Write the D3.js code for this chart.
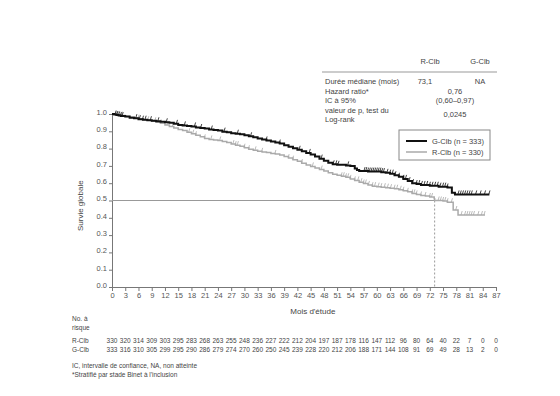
<!DOCTYPE html>
<html>
<head>
<meta charset="utf-8">
<script src="https://cdn.jsdelivr.net/npm/d3@7"></script>
<style>
  body { margin: 0; background: #fff; }
  svg text { font-family: "Liberation Sans", Arial, sans-serif; fill: #444; }
</style>
</head>
<body>
<div id="chart"></div>
<script>
// survival steps [mois, survie]
const gclbSteps = [[0,1],[0.5,0.997],[1,0.994],[1.5,0.991],[2,0.988],[3,0.985],[4,0.979],[5,0.976],[6,0.97],[7,0.967],[8,0.964],[9,0.961],[10,0.958],[11,0.955],[12,0.952],[13,0.949],[14,0.943],[15,0.937],[16,0.934],[17,0.931],[18,0.928],[19,0.922],[20,0.919],[21,0.916],[22,0.91],[23,0.907],[24,0.904],[25,0.898],[26,0.895],[27,0.889],[28,0.886],[29,0.883],[30,0.877],[31,0.871],[32,0.865],[33,0.859],[34,0.853],[35,0.847],[36,0.841],[37,0.835],[38,0.829],[39,0.82],[40,0.811],[41,0.802],[42,0.793],[43,0.784],[44,0.775],[45,0.766],[46,0.754],[47,0.742],[48,0.73],[49,0.718],[50,0.709],[51,0.706],[53,0.703],[54,0.7],[55,0.685],[55.5,0.676],[56,0.67],[58,0.667],[61,0.664],[62,0.66],[63,0.655],[64,0.646],[65,0.637],[66,0.625],[67,0.612],[68,0.6],[69,0.595],[70,0.59],[72,0.585],[74,0.58],[76,0.575],[77,0.545],[77.7,0.535],[85.5,0.535]]
const rclbSteps = [[0,1],[1,0.994],[2,0.991],[3,0.985],[4,0.982],[5,0.976],[6,0.973],[7,0.967],[8,0.964],[9,0.958],[10,0.952],[11,0.946],[12,0.937],[13,0.928],[14,0.919],[15,0.91],[16,0.904],[17,0.895],[18,0.886],[19,0.877],[20,0.868],[21,0.859],[22,0.853],[23,0.85],[24,0.847],[25,0.841],[26,0.835],[27,0.826],[28,0.82],[29,0.814],[30,0.805],[31,0.796],[32,0.79],[33,0.784],[34,0.781],[35,0.778],[36,0.772],[37,0.769],[38,0.763],[39,0.754],[40,0.745],[41,0.736],[42,0.727],[43,0.716],[44,0.705],[45,0.697],[46,0.688],[47,0.679],[48,0.67],[49,0.661],[50,0.652],[51,0.646],[52,0.64],[53,0.634],[54,0.625],[55,0.616],[56,0.606],[57,0.598],[58,0.59],[59,0.583],[60,0.58],[61,0.577],[62,0.574],[63,0.571],[64,0.568],[65,0.562],[66,0.556],[67,0.55],[68,0.541],[69,0.535],[70,0.529],[71,0.526],[72,0.52],[73,0.51],[73.1,0.5],[75,0.497],[76,0.49],[77.3,0.445],[78.4,0.416],[84.5,0.416]]

// censored times
const gclbCensor = [0.8,1.2,1.6,2.0,2.4,5.5,6.3,7.0,7.6,8.8,10.5,12.4,14.7,16.5,18.8,20.2,22.6,25.5,28.5,31.5,35,38,42.5,44.8,47.5,50.2,50.8,51.3,53.5,57.2,57.6,58,58.4,58.8,59.2,59.6,60,60.4,60.8,61.2,61.6,62.4,63,63.6,64.2,65,66,66.6,67.4,68.2,69,69.6,70.2,70.8,71.4,72,72.6,73.2,73.8,74.4,75,75.5,76,78.5,79,79.5,80,80.5,81,81.5,82.5,83.5,84.5,85.5]
const rclbCensor = [1.0,1.5,2.2,6.0,8.2,9.8,11,12.6,13.8,17.5,18.4,19,21,22.5,24.5,27.5,28,28.5,30,31,32.5,34,37,40,41,43,45.5,47.5,52,52.5,53,53.5,54,55,55.8,56.5,57,57.5,58.2,59,59.6,60.4,61,61.8,62.5,63.2,64,64.6,65.4,66,67,68,68.5,69,70,71,72,72.5,74,74.5,75,75.5,76,77,78,79.2,80,80.5,81,81.5,82,83,83.8,84.4]

// at-risk table
const riskMonths = d3.range(0, 88, 3)
const rclbRisk = [330,320,314,309,303,295,283,268,263,255,248,236,227,222,212,204,197,187,178,116,147,112,96,80,64,40,22,7,0,0]
const gclbRisk = [333,316,310,305,299,295,290,286,279,274,270,260,250,245,239,228,220,212,206,188,171,144,108,91,69,49,28,13,2,0]

const yTicks = d3.range(0, 11).map((d) => d / 10)
const medianR = 73.1

const statRows = [
    ['Durée médiane (mois)', '73,1', 'NA'],
    ['Hazard ratio*', '0,76'],
    ['IC à 95%', '(0,60–0,97)'],
    ['valeur de p, test du', '0,0245'],
    ['Log-rank', '']
]
const footnotes = ['IC, intervalle de confiance, NA, non atteinte', '*Stratifié par stade Binet à l\'inclusion']

const width = 560
const height = 396

const svg = d3.select('#chart').append('svg')
    .attr('width', width)
    .attr('height', height)

const x = d3.scaleLinear().domain([0, 87]).range([112, 496])
const y = d3.scaleLinear().domain([0, 1]).range([287, 114])

//axes
const yAxis = svg.append('g')
    .attr('transform', `translate(${x(0)},0)`)
    .call(d3.axisLeft(y).tickValues(yTicks).tickSize(3).tickPadding(2).tickFormat(d3.format('.1f')))
const xAxis = svg.append('g')
    .attr('transform', `translate(0,${y(0)})`)
    .call(d3.axisBottom(x).tickValues(riskMonths).tickSize(4).tickPadding(2))
;[yAxis, xAxis].forEach((g) => {
    g.selectAll('.domain').attr('stroke', '#777')
    g.selectAll('.tick line').attr('stroke', '#777')
    g.selectAll('.tick text').style('font-size', '7.5px').style('fill', '#555')
})
yAxis.selectAll('.tick text').attr('dy', '0.05em')

svg.append('text')
    .attr('transform', `translate(83,${y(0.47)}) rotate(-90)`)
    .attr('text-anchor', 'middle')
    .style('font-size', '8px')
    .text('Survie globale')
svg.append('text')
    .attr('x', x(45.5)).attr('y', 314)
    .attr('text-anchor', 'middle')
    .style('font-size', '8px')
    .text('Mois d\'étude')

//median reference
svg.append('line')
    .attr('x1', x(0)).attr('x2', x(medianR))
    .attr('y1', y(0.5)).attr('y2', y(0.5))
    .attr('stroke', '#999').attr('stroke-width', 1)
svg.append('line')
    .attr('x1', x(medianR)).attr('x2', x(medianR))
    .attr('y1', y(0.5)).attr('y2', y(0))
    .attr('stroke', '#999').attr('stroke-dasharray', '2,2')

//curves
const survAt = (steps, t) => {
    const i = d3.bisector((d) => d[0]).right(steps, t) - 1
    return steps[Math.max(0, i)][1]
}
const line = d3.line()
    .x((d) => x(d[0]))
    .y((d) => y(d[1]))
    .curve(d3.curveStepAfter)

const drawArm = (steps, censor, color, w) => {
    svg.append('path')
        .datum(steps)
        .attr('fill', 'none')
        .attr('stroke', color)
        .attr('stroke-width', w)
        .attr('d', line)
    svg.append('g')
        .selectAll('line')
        .data(censor)
        .enter()
        .append('line')
        .attr('x1', (d) => x(d) - 0.6)
        .attr('x2', (d) => x(d) + 0.6)
        .attr('y1', (d) => y(survAt(steps, d)))
        .attr('y2', (d) => y(survAt(steps, d)) - 4)
        .attr('stroke', color)
        .attr('stroke-width', 0.8)
}
drawArm(rclbSteps, rclbCensor, '#aaa', 1.5)
drawArm(gclbSteps, gclbCensor, '#111', 2)

//legend
const legend = svg.append('g')
legend.append('rect')
    .attr('x', 399).attr('y', 130).attr('width', 91).attr('height', 30)
    .attr('fill', '#fff').attr('stroke', '#888')
const legendItems = [['G-Clb (n = 333)', '#111', 2], ['R-Clb (n = 330)', '#aaa', 1.5]]
legendItems.forEach((it, i) => {
    legend.append('line')
        .attr('x1', 406).attr('x2', 427)
        .attr('y1', 141 + i * 11).attr('y2', 141 + i * 11)
        .attr('stroke', it[1]).attr('stroke-width', it[2])
    legend.append('text')
        .attr('x', 432).attr('y', 141 + i * 11).attr('dy', '0.35em')
        .style('font-size', '7.5px')
        .text(it[0])
})

//stats table
const st = svg.append('g').style('font-size', '7.5px')
st.append('text').attr('x', 430).attr('y', 64).attr('text-anchor', 'middle').text('R-Clb')
st.append('text').attr('x', 480).attr('y', 64).attr('text-anchor', 'middle').text('G-Clb')
st.append('line').attr('x1', 322).attr('x2', 497).attr('y1', 72).attr('y2', 72).attr('stroke', '#999')
statRows.forEach((r, i) => {
    const yy = 84 + i * 9.5
    st.append('text').attr('x', 325).attr('y', yy).text(r[0])
    if (r.length === 3) {
        st.append('text').attr('x', 425).attr('y', yy).attr('text-anchor', 'middle').text(r[1])
        st.append('text').attr('x', 480).attr('y', yy).attr('text-anchor', 'middle').text(r[2])
    } else if (r[1]) {
        st.append('text').attr('x', 455).attr('y', i === 3 ? yy + 4 : yy).attr('text-anchor', 'middle').text(r[1])
    }
})

//at-risk table
const risk = svg.append('g').style('font-size', '6.5px')
risk.append('text').attr('x', 72).attr('y', 321).text('No. à')
risk.append('text').attr('x', 72).attr('y', 330).text('risque')
const riskRows = [['R-Clb', rclbRisk, 342.5], ['G-Clb', gclbRisk, 351.5]]
riskRows.forEach((r) => {
    risk.append('text').attr('x', 72).attr('y', r[2]).text(r[0])
    risk.selectAll(null)
        .data(r[1])
        .enter()
        .append('text')
        .attr('x', (d, i) => x(riskMonths[i]))
        .attr('y', r[2])
        .attr('text-anchor', 'middle')
        .text((d) => d)
})
footnotes.forEach((f, i) => {
    svg.append('text')
        .attr('x', 72).attr('y', 368 + i * 9)
        .style('font-size', '6.5px')
        .text(f)
})
</script>
</body>
</html>
